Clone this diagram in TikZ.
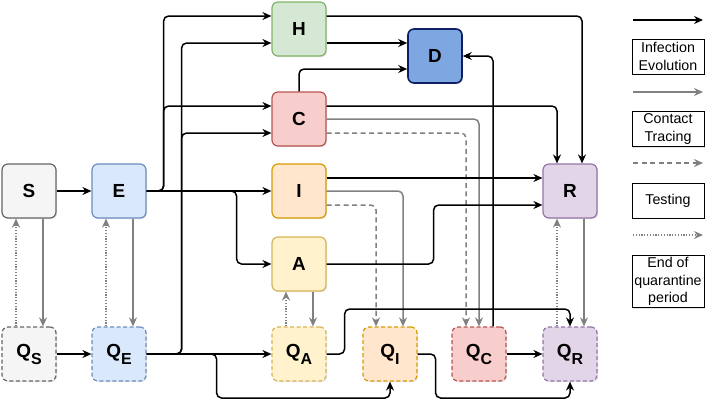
\documentclass[tikz,border=0pt]{standalone}
\usepackage{fontspec}
\setmainfont{Liberation Sans}
\usetikzlibrary{arrows.meta,
  calc,
  positioning,
  shadows
}
\definecolor{sfill}{HTML}{F5F5F5}\definecolor{sline}{HTML}{666666}
\definecolor{efill}{HTML}{DAE8FC}\definecolor{eline}{HTML}{6C8EBF}
\definecolor{hfill}{HTML}{D5E8D4}\definecolor{hline}{HTML}{82B366}
\definecolor{dfill}{HTML}{7EA6E0}\definecolor{dline}{HTML}{0F1F66}
\definecolor{cfill}{HTML}{F8CECC}\definecolor{cline}{HTML}{B85450}
\definecolor{ifill}{HTML}{FFE6CC}\definecolor{iline}{HTML}{D79B00}
\definecolor{afill}{HTML}{FFF2CC}\definecolor{aline}{HTML}{D6B656}
\definecolor{rfill}{HTML}{E1D5E7}\definecolor{rline}{HTML}{9673A6}
\definecolor{arrgray}{HTML}{808080}
\newcommand{\qsub}[1]{Q\raisebox{-7bp}{\fontsize{16}{16}\selectfont #1}}
\tikzstyle{comp} = [rectangle, rounded corners=6bp, minimum width=54bp,
  minimum height=54bp, line width=1.2bp,
  font=\fontsize{19}{19}\selectfont\bfseries,
  drop shadow={shadow xshift=1.2bp, shadow yshift=-1.2bp, opacity=0.2}]
\tikzstyle{quar} = [comp, dash pattern=on 4bp off 2.5bp]
\tikzstyle{inf} = [line width=1.5bp, rounded corners=5bp,
  -{Stealth[length=9bp,width=8bp,inset=3bp]}]
\tikzstyle{ct} = [inf, draw=arrgray]
\tikzstyle{tst} = [ct, dash pattern=on 5bp off 3.5bp]
\tikzstyle{eq} = [ct, line width=1.2bp, dash pattern=on 1.2bp off 1.6bp]
\tikzstyle{legbox} = [draw, fill=white, rectangle, line width=0.9bp,
  minimum width=72bp, minimum height=35bp, align=center, inner sep=2bp,
  font=\fontsize{14.3}{17.5}\selectfont,
  drop shadow={shadow xshift=1bp, shadow yshift=-1bp, opacity=0.2}]

\begin{document}
\begin{tikzpicture}[x=1bp, y=-1bp]
  \useasboundingbox (0,0) rectangle (708,401);

  % compartments
  \node[comp, fill=sfill, draw=sline] (S) at (29,191) {S};
  \node[comp, fill=efill, draw=eline] (E) at (119,191) {E};
  \node[comp, fill=hfill, draw=hline] (H) at (299,29) {H};
  \node[comp, fill=dfill, draw=dline, line width=1.6bp] (D) at (435,56) {D};
  \node[comp, fill=cfill, draw=cline] (C) at (299,119) {C};
  \node[comp, fill=ifill, draw=iline] (I) at (299,191) {I};
  \node[comp, fill=afill, draw=aline] (A) at (299,264) {A};
  \node[comp, fill=rfill, draw=rline] (R) at (570,191) {R};

  % quarantined compartments
  \node[quar, fill=sfill, draw=sline] (QS) at (29,354) {\qsub{S}};
  \node[quar, fill=efill, draw=eline] (QE) at (119,354) {\qsub{E}};
  \node[quar, fill=afill, draw=aline] (QA) at (299,354) {\qsub{A}};
  \node[quar, fill=ifill, draw=iline] (QI) at (390,354) {\qsub{I}};
  \node[quar, fill=cfill, draw=cline] (QC) at (479,354) {\qsub{C}};
  \node[quar, fill=rfill, draw=rline] (QR) at (570,354) {\qsub{R}};

  % contact tracing and end of quarantine
  \foreach \a/\b in {S/QS,E/QE,A/QA,R/QR} {
    \draw[ct] ([xshift=14bp]\a.south) -- ([xshift=14bp]\b.north);
    \draw[eq] ([xshift=-13bp]\b.north) -- ([xshift=-13bp]\a.south);
  }
  \draw[ct] (C.east) -| (QC.north);
  \draw[ct] (I.east) -| ([xshift=13bp]QI.north);

  % testing
  \draw[tst] ([yshift=-14bp]C.east) -| ([xshift=-13bp]QC.north);
  \draw[tst] ([yshift=-14bp]I.east) -| ([xshift=-14bp]QI.north);

  % infection evolution
  \draw[inf] (S) -- (E);
  \draw[inf] (E.east) -- ++(17,0) |- ([yshift=13bp]H.west);
  \draw[inf] (E.east) -- ++(17,0) |- ([yshift=13bp]C.west);
  \draw[inf] (E) -- (I);
  \draw[inf] (E.east) -- ++(90,0) |- (A.west);
  \draw[inf] (QS) -- (QE);
  \draw[inf] (QE.east) -- ++(35,0) |- ([yshift=-14bp]H.west);
  \draw[inf] (QE.east) -- ++(35,0) |- ([yshift=-14bp]C.west);
  \draw[inf] (QE) -- (QA);
  \draw[inf] (QE.east) -- ++(70,0) -- ++(0,44) -| (QI.south);
  \draw[inf] ([yshift=-14bp]H.east) -- ([yshift=-14bp]H.east -| D.west);
  \draw[inf] ([yshift=13bp]H.east) -| ([xshift=12bp]R.north);
  \draw[inf] (C.north) |- ([yshift=-13bp]D.west);
  \draw[inf] ([yshift=13bp]C.east) -| ([xshift=-13bp]R.north);
  \draw[inf] ([yshift=13bp]I.east) -- ([yshift=13bp]R.west);
  \draw[inf] (A.east) -- ++(107,0) |- ([yshift=-14bp]R.west);
  \draw[inf] ([xshift=14bp]QC.north) |- (D.east);
  \draw[inf] (QA.east) -- ++(18,0) -- ++(0,-45) -| (QR.north);
  \draw[inf] (QI.east) -- ++(18,0) -- ++(0,44) -| (QR.south);
  \draw[inf] (QC) -- (QR);

  % legend
  \foreach \y/\st [count=\k] in {20/inf,92/ct,163/tst,235/eq} {
    \coordinate (la\k) at (633,\y);
    \coordinate (lb\k) at (703,\y);
    \draw[\st] (la\k) -- (lb\k);
  }
  \node[legbox] (leg1) at (668,56.5) {Infection\\Evolution};
  \node[legbox] (leg2) at (668,129) {Contact\\Tracing};
  \node[legbox] (leg3) at (668,200.5) {Testing};
  \node[legbox] (leg4) at (668,281.5) {End of\\quarantine\\period};
\end{tikzpicture}
\end{document}
